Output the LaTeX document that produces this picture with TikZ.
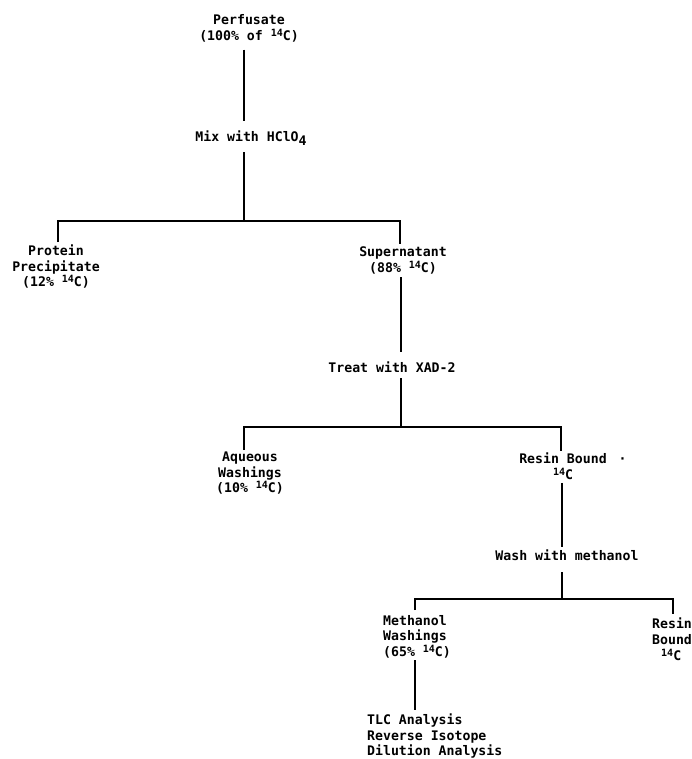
\documentclass[tikz,border=0pt]{standalone}
\usepackage{fontspec}
\setmonofont{DejaVu Sans Mono}
\newcommand\cfourteen{\raisebox{0.32em}{\fontsize{10}{10}\selectfont 14}C}
\begin{document}
\begin{tikzpicture}[x=1pt,y=-1pt,
  every node/.style={inner sep=0pt, font=\ttfamily\bfseries\fontsize{13.2}{15.5}\selectfont},
  lbl/.style={align=center},
  lbll/.style={align=left},
  conn/.style={line width=2pt}]
\useasboundingbox (0,0) rectangle (691,759);
% nodes
\node[lbl, anchor=north] (perf) at (249,14) {Perfusate\\[1pt](100\% of \cfourteen)};
\node[anchor=base] (mix) at (251,142) {Mix with HClO\raisebox{-4pt}{4}};
\node[lbl, anchor=north] (prot) at (56,245) {Protein\\Precipitate\\(12\% \cfourteen)};
\node[lbl, anchor=north] (sup) at (403,247) {Supernatant\\(88\% \cfourteen)};
\node[anchor=base] (treat) at (392,372) {Treat with XAD-2};
\node[lbl, anchor=north] (aq) at (250,452) {Aqueous\\Washings\\(10\% \cfourteen)};
\node[lbl, anchor=north] (resA) at (563,453) {Resin Bound\rlap{\hspace{12pt}·}\\\cfourteen};
\node[anchor=base] (wash) at (567,560) {Wash with methanol};
\node[lbll, anchor=north west] (meth) at (383,615) {Methanol\\Washings\\(65\% \cfourteen)};
\node[lbll, anchor=north west] (resB) at (652,618) {Resin\\Bound\\[1pt]\hspace*{9pt}\cfourteen};
\node[lbll, anchor=north west] (tlc) at (367,714) {TLC Analysis\\Reverse Isotope\\Dilution Analysis};
% junctions
\coordinate (ja) at (244,221);
\coordinate (jaL) at (58,221);
\coordinate (jaR) at (400,221);
\coordinate (jb) at (401,427);
\coordinate (jbL) at (244,427);
\coordinate (jbR) at (561,427);
\coordinate (jc) at (562,599);
\coordinate (jcL) at (415,599);
\coordinate (jcR) at (673,599);
% connectors
\draw[conn, shorten <=7pt, shorten >=10pt] (perf.south -| ja) -- (mix.north -| ja);
\draw[conn, shorten <=6pt] (mix.south -| ja) -- (ja);
\draw[conn, shorten <=3pt, shorten >=3pt] (prot.north -| jaL) -- (jaL) -- (jaR) -- (sup.north -| jaR);
\draw[conn, shorten <=3pt, shorten >=9pt] (sup.south -| jb) -- (treat.north -| jb);
\draw[conn, shorten <=6pt] (treat.south -| jb) -- (jb);
\draw[conn, shorten <=2pt, shorten >=2pt] (aq.north -| jbL) -- (jbL) -- (jbR) -- (resA.north -| jbR);
\draw[conn, shorten <=3pt, shorten >=2pt] (resA.south -| jc) -- (wash.north -| jc);
\draw[conn, shorten <=12pt] (wash.south -| jc) -- (jc);
\draw[conn, shorten <=5pt, shorten >=4pt] (meth.north -| jcL) -- (jcL) -- (jcR) -- (resB.north -| jcR);
\draw[conn, shorten <=2pt, shorten >=4pt] (meth.south -| jcL) -- (tlc.north -| jcL);
\end{tikzpicture}
\end{document}
